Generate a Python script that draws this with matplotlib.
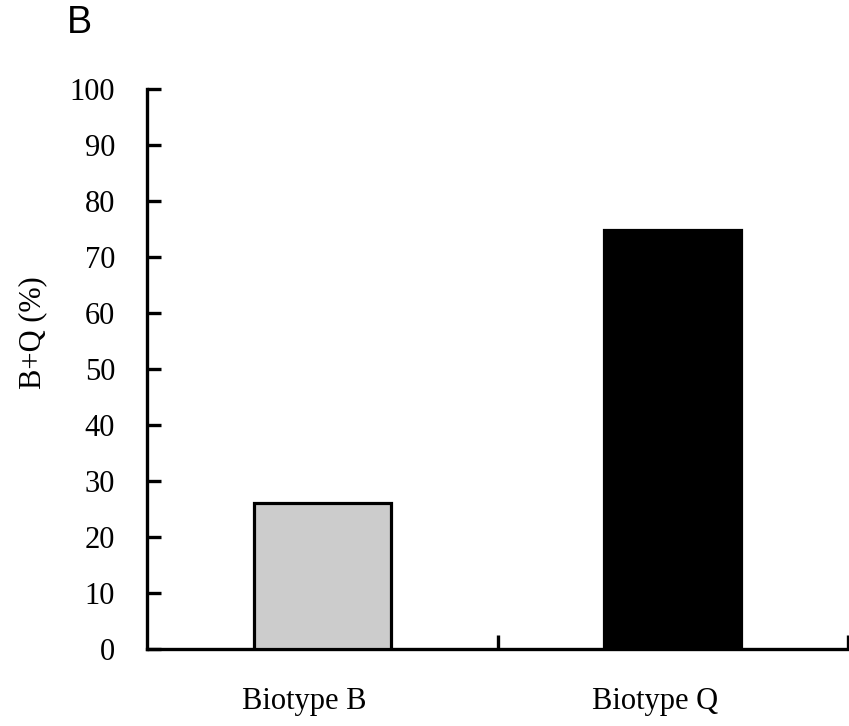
import matplotlib
matplotlib.use("Agg")
import matplotlib.pyplot as plt
import matplotlib.transforms as mtransforms

categories = ["Biotype B", "Biotype Q"]
values = [26.0, 74.8]
colors = ["#cccccc", "#000000"]
yticks = [0, 10, 20, 30, 40, 50, 60, 70, 80, 90, 100]

plt.rcParams['font.family'] = ['Liberation Serif', 'DejaVu Serif']

fig = plt.figure(figsize=(8.49, 7.26), dpi=100)
ax = fig.add_axes([147/849, 1-649/726, 701/849, (649-89)/726])

x = list(range(len(categories)))
ax.bar(x, values, width=0.39, color=colors, edgecolor="black", linewidth=2.3, zorder=3)

ax.set_xlim(-0.5, 1.5)
ax.set_ylim(0, 100)
ax.set_yticks(yticks)
ax.set_yticklabels([str(v) for v in yticks], fontsize=22)
ax.set_xticks([0.5, 1.5], minor=False)
ax.set_xticklabels([])
ax.set_xticks(x, minor=True)
ax.set_xticklabels(categories, minor=True, fontsize=22)
ax.tick_params(axis='x', which='major', direction='in', length=10, width=2.4)
ax.tick_params(axis='x', which='minor', length=0, pad=27)
ax.tick_params(axis='y', direction='in', length=10, width=2.4, pad=23)

off = mtransforms.ScaledTranslation(-18/100, 0, fig.dpi_scale_trans)
for lbl in ax.get_xticklabels(minor=True):
    lbl.set_transform(lbl.get_transform() + off)

for s in ['top', 'right']:
    ax.spines[s].set_visible(False)
for s in ['left', 'bottom']:
    ax.spines[s].set_linewidth(2.4)

fig.text(33/849, 1-333/726, "B+Q (%)", fontsize=22, rotation=90, ha='center', va='center')
fig.text(67/849, 1-33/726, "B", fontsize=27, family=['Liberation Sans', 'DejaVu Sans'], ha='left', va='baseline')

fig.savefig("out.png", dpi=100)
